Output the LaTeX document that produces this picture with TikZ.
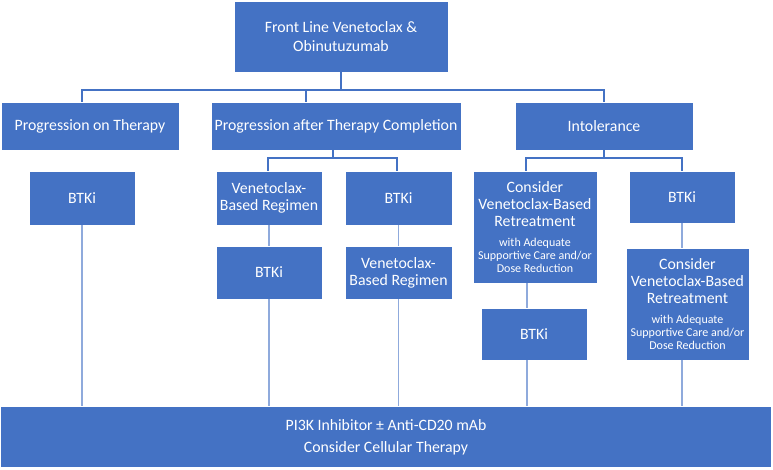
\documentclass[tikz,border=0pt]{standalone}
\usepackage{fontspec}
\setmainfont{Carlito}
\definecolor{obl}{HTML}{4472C4}
\definecolor{darkln}{HTML}{4472C4}
\definecolor{lightln}{HTML}{8FAADC}
\newcommand{\smalltxt}[1]{{\fontsize{12}{13}\selectfont #1}}
\begin{document}
\begin{tikzpicture}[x=1pt,y=-1pt,
  box/.style={draw=white, line width=0.7pt, fill=obl, text=white, inner sep=0pt, align=center,
    font=\fontsize{15.8}{17}\selectfont},
  elbow/.style={draw=darkln, line width=1.1pt},
  vline/.style={draw=lightln, line width=1.4pt}]
\useasboundingbox (0,0) rectangle (773,469);
% nodes
\node[box, minimum width=214pt, minimum height=71pt] (top) at (341,36.5) {Front Line Venetoclax \&\\[2pt]Obinutuzumab};
\node[box, minimum width=178pt, minimum height=48pt] (pot) at (90,126) {Progression on Therapy};
\node[box, minimum width=250pt, minimum height=48pt] (patc) at (336,126) {Progression after Therapy Completion};
\node[box, minimum width=178pt, minimum height=48pt] (intol) at (604,126) {Intolerance};
\node[box, minimum width=106pt, minimum height=54pt] (btk1) at (82,198) {BTKi};
\node[box, minimum width=106pt, minimum height=54pt] (vbr1) at (269,198) {Venetoclax-\\Based Regimen};
\node[box, minimum width=107pt, minimum height=54pt] (btk2) at (398.5,198) {BTKi};
\node[box, minimum width=106pt, minimum height=53pt] (btk3) at (269,272.5) {BTKi};
\node[box, minimum width=107pt, minimum height=53pt] (vbr2) at (398.5,272.5) {Venetoclax-\\Based Regimen};
\node[box, minimum width=124pt, minimum height=112pt] (cons1) at (535,227) {Consider\\Venetoclax-Based\\Retreatment\\[3pt]\smalltxt{with Adequate}\\[-4pt]\smalltxt{Supportive Care and/or}\\[-4pt]\smalltxt{Dose Reduction}};
\node[box, minimum width=106pt, minimum height=52pt] (btk4) at (682,197) {BTKi};
\node[box, minimum width=106pt, minimum height=52pt] (btk5) at (534,334) {BTKi};
\node[box, minimum width=123pt, minimum height=112pt] (cons2) at (687.5,304) {Consider\\Venetoclax-Based\\Retreatment\\[3pt]\smalltxt{with Adequate}\\[-4pt]\smalltxt{Supportive Care and/or}\\[-4pt]\smalltxt{Dose Reduction}};
\node[box, minimum width=771pt, minimum height=61pt] (bot) at (386,437) {PI3K Inhibitor ± Anti-CD20 mAb\\[5pt]Consider Cellular Therapy};
% top elbow connectors
\coordinate (hb) at (341,90);
\draw[elbow] (top.south) -- (hb);
\draw[elbow] (82,0 |- pot.north) -- (82,90) -- (604,90) -- (604,0 |- intol.north);
\draw[elbow] (306,90) -- (306,0 |- patc.north);
% progression after completion
\draw[elbow] (333,0 |- patc.south) -- (333,158);
\draw[elbow] (268,0 |- vbr1.north) -- (268,158) -- (397,158) -- (397,0 |- btk2.north);
% intolerance
\draw[elbow] (intol.south) -- (604,158);
\draw[elbow] (526,0 |- cons1.north) -- (526,158) -- (682,158) -- (682,0 |- btk4.north);
% vertical column connectors
\draw[vline] (btk1.south) -- (82,0 |- bot.north);
\draw[vline] (vbr1.south) -- (btk3.north);
\draw[vline] (btk2.south) -- (vbr2.north);
\draw[vline] (btk3.south) -- (269,0 |- bot.north);
\draw[vline] (vbr2.south) -- (398.5,0 |- bot.north);
\draw[vline] (527,0 |- cons1.south) -- (527,0 |- btk5.north);
\draw[vline] (527,0 |- btk5.south) -- (527,0 |- bot.north);
\draw[vline] (btk4.south) -- (682,0 |- cons2.north);
\draw[vline] (682,0 |- cons2.south) -- (682,0 |- bot.north);
\end{tikzpicture}
\end{document}
